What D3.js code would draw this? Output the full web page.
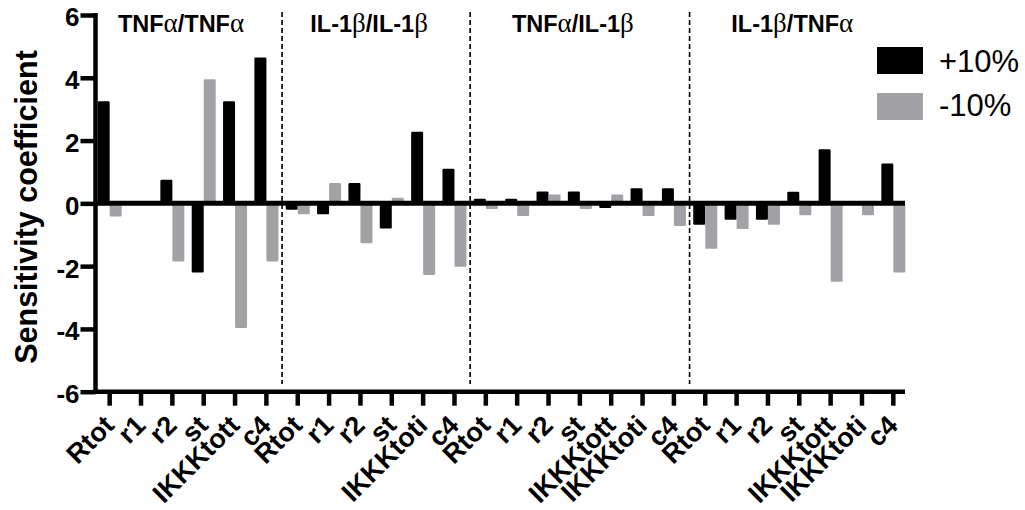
<!DOCTYPE html>
<html>
<head>
<meta charset="utf-8">
<script src="https://cdn.jsdelivr.net/npm/d3@7"></script>
<style>
  html, body { margin: 0; padding: 0; background: #fff; }
  svg { display: block; }
  text { font-family: "Liberation Sans", Arial, Helvetica, sans-serif; }
</style>
</head>
<body>
<svg id="chart" width="1025" height="510"></svg>
<script>
// Stimulus / readout combinations, each with its own set of perturbed parameters
const groups = ["TNFα/TNFα", "IL-1β/IL-1β", "TNFα/IL-1β", "IL-1β/TNFα"];
const groupParams = [
  ["Rtot", "r1", "r2", "st", "IKKKtott", "c4"],
  ["Rtot", "r1", "r2", "st", "IKKKtoti", "c4"],
  ["Rtot", "r1", "r2", "st", "IKKKtott", "IKKKtoti", "c4"],
  ["Rtot", "r1", "r2", "st", "IKKKtott", "IKKKtoti", "c4"]
];
// Sensitivity coefficients for a +10% change of each parameter
const plus10 = [
  [3.25, 0, 0.75, -2.2, 3.25, 4.65],
  [-0.2, -0.35, 0.65, -0.8, 2.28, 1.1],
  [0.15, 0.15, 0.38, 0.38, -0.15, 0.48, 0.48],
  [-0.68, -0.52, -0.52, 0.37, 1.72, 0, 1.27]
];
// Sensitivity coefficients for a -10% change of each parameter
const minus10 = [
  [-0.42, 0, -1.85, 3.95, -3.97, -1.85],
  [-0.35, 0.65, -1.27, 0.18, -2.28, -2.02],
  [-0.18, -0.4, 0.28, -0.18, 0.28, -0.4, -0.72],
  [-1.45, -0.82, -0.68, -0.38, -2.5, -0.38, -2.2]
];
const seriesNames = ["+10%", "-10%"];
const seriesColors = ["#000000", "#a2a2a6"];
const yTicks = [-6, -4, -2, 0, 2, 4, 6];

// Flatten into one row per bar position
const rows = [];
groups.forEach((g, gi) => {
  groupParams[gi].forEach((p, pi) => {
    rows.push({ key: gi + "|" + p, group: gi, param: p,
                values: [plus10[gi][pi], minus10[gi][pi]] });
  });
});

const svg = d3.select("#chart");
const axisX = 95.5;

const x = d3.scaleBand()
  .domain(rows.map(d => d.key))
  .range([94, 909])
  .paddingInner(0.234)
  .paddingOuter(0.117);

const xSub = d3.scaleBand()
  .domain(seriesNames)
  .range([0, x.bandwidth()]);

const y = d3.scaleLinear().domain([-6, 6]).range([391.7, 15]);

// Bars
const barG = svg.append("g");
rows.forEach(r => {
  barG.selectAll(null)
    .data(r.values.map((v, i) => ({ v, i })))
    .join("rect")
    .attr("x", d => x(r.key) + xSub(seriesNames[d.i]))
    .attr("width", xSub.bandwidth())
    .attr("y", d => y(Math.max(0, d.v)))
    .attr("height", d => Math.abs(y(d.v) - y(0)))
    .attr("rx", 1.2)
    .attr("fill", d => seriesColors[d.i]);
});

// Dashed separators between the stimulus groups
let cum = 0;
const bounds = [];
groupParams.forEach((ps, gi) => {
  const start = cum;
  cum += ps.length;
  bounds.push([start, cum]);
});
const step = x.step();
const left = x.range()[0];
bounds.slice(0, -1).forEach(b => {
  const bx = left + b[1] * step;
  svg.append("line")
    .attr("x1", bx).attr("x2", bx)
    .attr("y1", 12).attr("y2", 384)
    .attr("stroke", "#000")
    .attr("stroke-width", 1.6)
    .attr("stroke-dasharray", "5,3");
});

// Group headings
bounds.forEach((b, gi) => {
  const cx = left + (b[0] + b[1]) / 2 * step - 7;
  const parts = groups[gi].split(/([αβ])/).filter(s => s.length);
  const t = svg.append("text")
    .attr("x", cx).attr("y", 32)
    .attr("text-anchor", "middle")
    .style("font-size", "23.5px")
    .style("font-weight", "bold");
  parts.forEach(s => {
    const greek = s === "α" || s === "β";
    t.append("tspan")
      .text(s)
      .style("font-family", greek ? "'Liberation Serif', 'Times New Roman', serif" : null)
      .style("font-weight", greek ? "normal" : "bold")
      .style("font-size", greek ? "27px" : null);
  });
});

// Zero line
svg.append("line")
  .attr("x1", axisX).attr("x2", 905)
  .attr("y1", y(0)).attr("y2", y(0))
  .attr("stroke", "#000").attr("stroke-width", 5);

// Y axis
const yAxis = svg.append("g")
  .attr("transform", `translate(${axisX},0)`)
  .call(d3.axisLeft(y).tickValues(yTicks).tickSize(15).tickSizeOuter(0)
    .tickPadding(1).tickFormat(d => String(d)));
yAxis.select(".domain").attr("stroke-width", 4.5).attr("d", `M0,${y(6) - 2}V${y(-6) + 2}`);
yAxis.selectAll(".tick line").attr("stroke-width", 4.5);
yAxis.selectAll(".tick text")
  .style("font-size", "26px").style("font-weight", "bold")
  .style("font-family", "'Liberation Sans', Arial, sans-serif")
  .attr("fill", "#000").attr("dy", "0.42em");

// X axis
const xAxis = svg.append("g")
  .attr("transform", `translate(0,${y(-6)})`)
  .call(d3.axisBottom(x).tickSize(14).tickSizeOuter(0).tickFormat(() => ""));
xAxis.select(".domain").remove();
xAxis.selectAll(".tick line").attr("stroke-width", 4.5);
svg.append("line")
  .attr("x1", axisX - 2.25).attr("x2", 905)
  .attr("y1", y(-6)).attr("y2", y(-6))
  .attr("stroke", "#000").attr("stroke-width", 4.5);

// Rotated category labels
svg.append("g").selectAll("text")
  .data(rows)
  .join("text")
  .attr("transform", d => `translate(${x(d.key) + x.bandwidth() / 2 + 6},427) rotate(-45)`)
  .attr("text-anchor", "end")
  .style("font-size", "27px")
  .style("font-weight", "bold")
  .text(d => d.param);

// Y axis title
svg.append("text")
  .attr("transform", "translate(37,207) rotate(-90)")
  .attr("text-anchor", "middle")
  .style("font-size", "30.5px")
  .style("font-weight", "bold")
  .text("Sensitivity coefficient");

// Legend
const legend = svg.append("g");
seriesNames.forEach((s, i) => {
  legend.append("rect")
    .attr("x", 877).attr("y", 47 + i * 46)
    .attr("width", 46).attr("height", 27)
    .attr("fill", seriesColors[i]);
  legend.append("text")
    .attr("x", 939).attr("y", 72 + i * 43.5)
    .style("font-size", "31px")
    .text(s);
});
</script>
</body>
</html>
